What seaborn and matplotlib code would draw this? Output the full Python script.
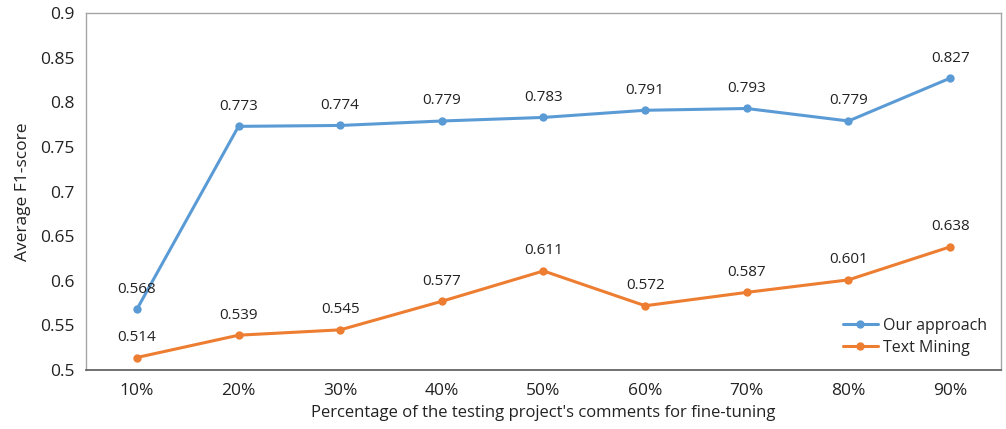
import pandas as pd
import matplotlib.pyplot as plt
import seaborn as sns

percentages = ['10%', '20%', '30%', '40%', '50%', '60%', '70%', '80%', '90%']
our_approach = [0.568, 0.773, 0.774, 0.779, 0.783, 0.791, 0.793, 0.779, 0.827]
text_mining = [0.514, 0.539, 0.545, 0.577, 0.611, 0.572, 0.587, 0.601, 0.638]
y_ticks = [0.5, 0.55, 0.6, 0.65, 0.7, 0.75, 0.8, 0.85, 0.9]


def create_chart():
    sns.set_theme(style="white")
    plt.rcParams['font.family'] = ['Open Sans', 'DejaVu Sans']

    df = pd.DataFrame({
        'pct': percentages * 2,
        'score': our_approach + text_mining,
        'method': ['Our approach'] * len(percentages) + ['Text Mining'] * len(percentages),
    })
    df['x'] = list(range(len(percentages))) * 2

    fig = plt.figure(figsize=(10.06, 4.29), dpi=100)
    ax = fig.add_axes([0.0855, 0.1375, 0.9095, 0.8322])

    palette = {'Our approach': '#5B9BD5', 'Text Mining': '#ED7D31'}
    sns.lineplot(data=df, x='x', y='score', hue='method', palette=palette,
                 marker='o', markersize=6, markeredgewidth=0, linewidth=2.2, ax=ax)

    # value labels above each point
    for _, row in df.iterrows():
        ax.annotate(f"{row['score']:.3f}", (row['x'], row['score']),
                    xytext=(0, 9), textcoords='offset points',
                    ha='center', va='bottom', fontsize=11, color='#222222')

    ax.set_xlim(-0.5, len(percentages) - 0.5)
    ax.set_ylim(0.5, 0.9)
    ax.set_xticks(range(len(percentages)))
    ax.set_xticklabels(percentages)
    ax.set_yticks(y_ticks)
    ax.set_yticklabels([f"{v:g}" for v in y_ticks])
    ax.tick_params(axis='both', labelsize=12.5, colors='#222222', length=0, pad=9)
    ax.tick_params(axis='y', pad=8)

    ax.set_xlabel("Percentage of the testing project's comments for fine-tuning",
                  fontsize=12, color='#222222', labelpad=5)
    ax.set_ylabel('Average F1-score', fontsize=12.5, color='#222222', labelpad=7)

    for side in ['left', 'top', 'right']:
        ax.spines[side].set_color('#A6A6A6')
        ax.spines[side].set_linewidth(1)
    ax.spines['bottom'].set_color('#595959')
    ax.spines['bottom'].set_linewidth(1.2)

    ax.legend(loc='lower right', frameon=False, fontsize=11.5, handlelength=2.2,
              handletextpad=0.3, labelspacing=0.35, borderaxespad=0.5)

    fig.savefig('out.png', dpi=100)
    plt.close(fig)


if __name__ == "__main__":
    create_chart()
